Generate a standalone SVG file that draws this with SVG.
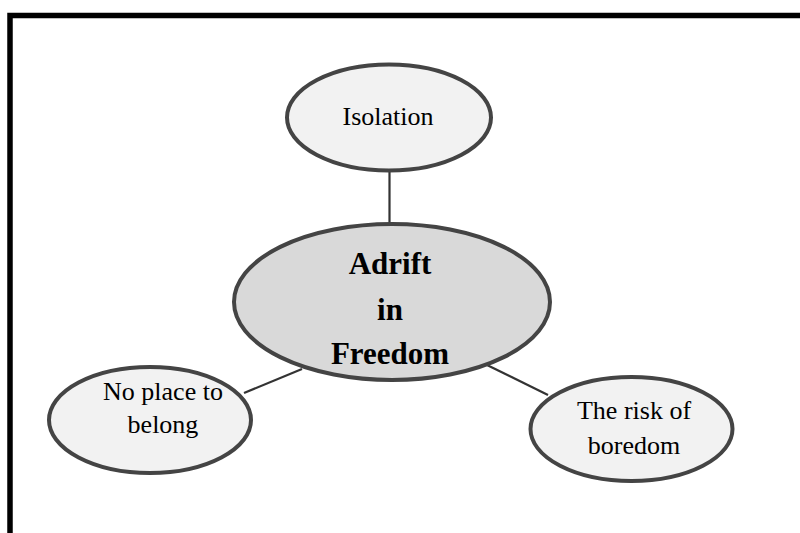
<svg xmlns="http://www.w3.org/2000/svg" width="800" height="533" viewBox="0 0 800 533">
  <style>
    .frame { fill: none; stroke: #000; stroke-width: 5.5; }
    .node ellipse { stroke: #444; stroke-width: 4; }
    .leaf ellipse { fill: #f2f2f2; }
    .hub ellipse { fill: #d9d9d9; }
    .link { stroke: #333; stroke-width: 2.2; fill: none; }
    text { font-family: "Liberation Serif", "Times New Roman", serif; fill: #000; text-anchor: middle; }
    .leaf text { font-size: 26px; }
    .hub text { font-size: 31px; font-weight: bold; }
  </style>
  <rect width="800" height="533" fill="#fff"/>
  <!-- page frame (runs off the right and bottom edges) -->
  <rect class="frame" x="10" y="15.5" width="820" height="560"/>

  <g id="connectors">
    <line class="link" x1="389.5" y1="171" x2="389.5" y2="224"/>
    <line class="link" x1="302" y1="369" x2="244" y2="393"/>
    <line class="link" x1="487" y1="365" x2="548" y2="395"/>
  </g>

  <g id="isolation" class="node leaf">
    <ellipse cx="389" cy="117.5" rx="102" ry="53"/>
    <text x="388" y="125">Isolation</text>
  </g>

  <g id="adrift-in-freedom" class="node hub">
    <ellipse cx="392" cy="302" rx="158" ry="78"/>
    <text x="390" y="274">Adrift</text>
    <text x="390" y="320">in</text>
    <text x="390" y="364">Freedom</text>
  </g>

  <g id="no-place-to-belong" class="node leaf">
    <ellipse cx="150" cy="420" rx="101" ry="53"/>
    <text x="163" y="400">No place to</text>
    <text x="163" y="433">belong</text>
  </g>

  <g id="risk-of-boredom" class="node leaf">
    <ellipse cx="631.5" cy="429" rx="101" ry="52"/>
    <text x="634" y="419">The risk of</text>
    <text x="634" y="454">boredom</text>
  </g>
</svg>
